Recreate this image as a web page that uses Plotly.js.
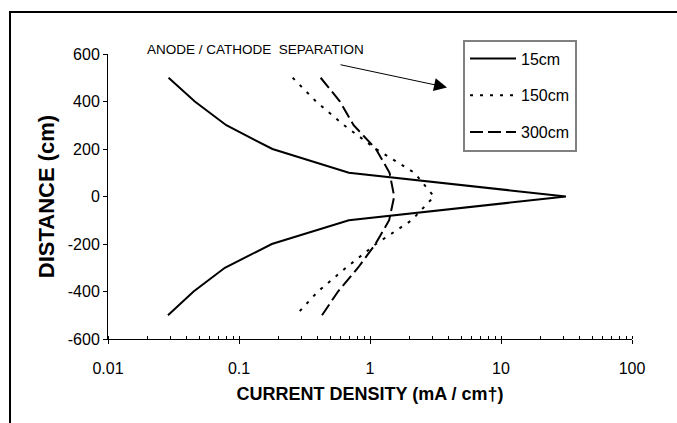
<!DOCTYPE html>
<html>
<head>
<meta charset="utf-8">
<script src="https://cdn.plot.ly/plotly-3.0.1.min.js"></script>
<style>html,body{margin:0;padding:0;background:#fff;}#chart{width:677px;height:423px;}</style>
</head>
<body>
<div id="chart"></div>
<script>
// ---- data ----
const distance = [500, 400, 300, 200, 100, 0, -100, -200, -300, -400, -500];
const cd15cm  = [0.029, 0.046, 0.080, 0.180, 0.69, 31.3, 0.69, 0.178, 0.078, 0.045, 0.0287];
const cd150cm = [0.257, 0.387, 0.634, 1.11, 2.18, 3.08, 2.08, 1.11, 0.656, 0.40, 0.272];
const cd300cm = [0.42, 0.59, 0.75, 1.11, 1.41, 1.53, 1.40, 1.10, 0.81, 0.57, 0.43];
const seriesNames = ['15cm', '150cm', '300cm'];
const xTickVals = [0.01, 0.1, 1, 10, 100];
const xTickText = ['0.01', '0.1', '1', '10', '100'];
const yTickVals = [-600, -400, -200, 0, 200, 400, 600];
const yTickText = ['-600', '-400', '-200', '0', '200', '400', '600'];
const xTitle = 'CURRENT DENSITY (mA / cm†)';
const yTitle = 'DISTANCE (cm)';
const noteText = 'ANODE / CATHODE  SEPARATION';

const FONT = 'Liberation Sans, Arial, sans-serif';

const traces = [
  {x: cd15cm, y: distance, name: seriesNames[0], legendgroup: 'a', mode: 'lines',
   line: {color: '#000', width: 2, dash: 'solid'}},
  {x: cd150cm, y: distance, name: seriesNames[1], legendgroup: 'b', mode: 'lines',
   line: {color: '#000', width: 2, dash: '3px,7px'}},
  {x: cd300cm, y: distance, name: seriesNames[2], legendgroup: 'c', mode: 'lines',
   line: {color: '#000', width: 2, dash: '13px,5px'}}
];

const layout = {
  width: 677, height: 423,
  margin: {l: 108, r: 45, t: 53.5, b: 84, pad: 0},
  paper_bgcolor: '#fff', plot_bgcolor: '#fff',
  font: {family: FONT, color: '#000', size: 16},
  showlegend: true,
  legend: {
    x: 0.6775, y: 1.0508, xanchor: 'left', yanchor: 'top',
    bgcolor: '#fff', bordercolor: '#808080', borderwidth: 2,
    font: {family: FONT, size: 16, color: '#000'},
    traceorder: 'grouped', tracegroupgap: 13, itemwidth: 46
  },
  xaxis: {
    type: 'log', range: [-2, 2], tickmode: 'array', tickvals: xTickVals, ticktext: xTickText,
    ticks: 'outside', ticklen: 4, tickwidth: 1, tickcolor: '#000',
    showline: true, linecolor: '#000', linewidth: 1, showgrid: false, zeroline: false,
    ticklabelstandoff: 11,
    tickfont: {family: FONT, size: 16},
    minor: {ticks: 'inside', ticklen: 3, tickwidth: 1, tickcolor: '#000', dtick: 'D1', showgrid: false},
    title: {text: xTitle, standoff: 11, font: {family: FONT, size: 18, weight: 'bold'}},
    automargin: false
  },
  xaxis2: {
    type: 'log', range: [-2, 2], overlaying: 'x', anchor: 'y', side: 'bottom',
    tickmode: 'array', tickvals: xTickVals, ticks: 'inside', ticklen: 4, tickwidth: 1, tickcolor: '#000',
    showticklabels: false, showline: false, showgrid: false, zeroline: false
  },
  yaxis: {
    range: [-600, 600], tickmode: 'array', tickvals: yTickVals, ticktext: yTickText,
    ticks: 'outside', ticklen: 4, tickwidth: 1, tickcolor: '#000',
    showline: true, linecolor: '#000', linewidth: 1, showgrid: false, zeroline: false,
    tickfont: {family: FONT, size: 16},
    title: {text: yTitle, standoff: 7, font: {family: FONT, size: 22, weight: 'bold'}},
    automargin: false
  },
  yaxis2: {
    range: [-600, 600], overlaying: 'y', anchor: 'x', side: 'left',
    tickmode: 'array', tickvals: yTickVals, ticks: 'inside', ticklen: 4, tickwidth: 1, tickcolor: '#000',
    showticklabels: false, showline: false, showgrid: false, zeroline: false
  },
  shapes: [
    {type: 'rect', xref: 'paper', yref: 'paper', x0: -0.187, x1: 1.3, y0: -0.6, y1: 1.147,
     line: {color: '#000', width: 2}, layer: 'below'}
  ],
  annotations: [
    {xref: 'paper', yref: 'paper', x: 0.0706, y: 1.0158, xanchor: 'left', yanchor: 'middle',
     text: noteText, showarrow: false, font: {family: FONT, size: 13.5, color: '#000'}},
    {xref: 'paper', yref: 'paper', x: 0.647, y: 0.8827, axref: 'pixel', ayref: 'pixel',
     ax: -108, ay: -23, text: '', showarrow: true, arrowhead: 2, arrowsize: 2.6,
     arrowwidth: 1, arrowcolor: '#000'}
  ]
};

Plotly.newPlot('chart', traces, layout, {staticPlot: true, displayModeBar: false});
</script>
</body>
</html>
